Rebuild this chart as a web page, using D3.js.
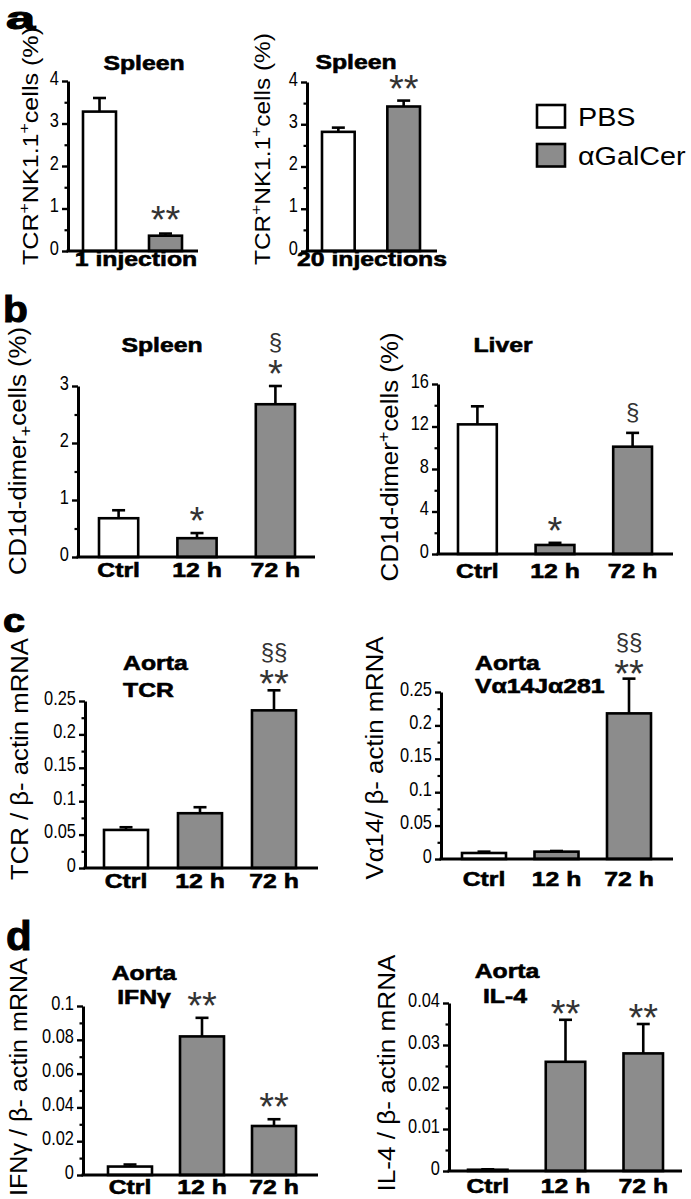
<!DOCTYPE html>
<html><head><meta charset="utf-8">
<script src="https://cdn.jsdelivr.net/npm/d3@7"></script>
<style>body{margin:0;background:#fff} svg{display:block}</style>
</head><body>
<svg id="fig" width="691" height="1199"></svg>
<script>
// ---------- data ----------
const catsA = ["PBS", "αGalCer"];
const spleen1Vals = [3.28, 0.36];
const spleen1Err = [0.32, 0.05];
const spleen1Sig = [[], ["**"]];
const spleen20Vals = [2.82, 3.42];
const spleen20Err = [0.10, 0.14];
const spleen20Sig = [[], ["**"]];
const ticksA = [0, 1, 2, 3, 4];
const minorA = [0.5, 1.5, 2.5, 3.5];

const timeCats = ["Ctrl", "12 h", "72 h"];
const spleenDimerVals = [0.68, 0.33, 2.68];
const spleenDimerErr = [0.14, 0.09, 0.32];
const spleenDimerSig = [[], ["*"], ["§", "*"]];
const ticksSpleenB = [0, 1, 2, 3];
const minorSpleenB = [0.5, 1.5, 2.5];

const liverDimerVals = [12.2, 0.85, 10.1];
const liverDimerErr = [1.7, 0.2, 1.3];
const liverDimerSig = [[], ["*"], ["§"]];
const ticksLiver = [0, 4, 8, 12, 16];
const minorLiver = [2, 6, 10, 14];

const tcrVals = [0.057, 0.082, 0.236];
const tcrErr = [0.004, 0.009, 0.030];
const tcrSig = [[], [], ["§§", "**"]];
const va14Vals = [0.009, 0.011, 0.218];
const va14Err = [0.002, 0.001, 0.052];
const va14Sig = [[], [], ["§§", "**"]];
const ticksC = [0, 0.05, 0.1, 0.15, 0.2, 0.25];
const minorC = [0.025, 0.075, 0.125, 0.175, 0.225];

const ifngVals = [0.005, 0.082, 0.029];
const ifngErr = [0.0012, 0.011, 0.004];
const ifngSig = [[], ["**"], ["**"]];
const ticksIfn = [0, 0.02, 0.04, 0.06, 0.08, 0.1];
const minorIfn = [0.01, 0.03, 0.05, 0.07, 0.09];

const il4Vals = [0.0003, 0.026, 0.028];
const il4Err = [0.0001, 0.010, 0.007];
const il4Sig = [[], ["**"], ["**"]];
const ticksIl4 = [0, 0.01, 0.02, 0.03, 0.04];
const minorIl4 = [0.005, 0.015, 0.025, 0.035];

// ---------- helpers ----------
const svg = d3.select("#fig");
const FF = "'Liberation Sans', Arial, Helvetica, sans-serif";
const GRAY = "#8c8c8c";

function btxt(x, y, s, o = {}) {
  const bold = (o.weight || "bold") === "bold";
  const t = svg.append("text")
    .attr("transform", `translate(${x},${y}) scale(${o.sx || 1.18},${o.sy || 1})`)
    .attr("font-family", FF).attr("font-size", o.size || 21)
    .attr("font-weight", o.weight || "bold")
    .attr("text-anchor", o.anchor || "middle")
    .attr("fill", "#000").text(s);
  if (bold) t.attr("stroke", "#000").attr("stroke-width", o.sw || 0.6);
  return t;
}

function ylabel(x, y, parts, size, len) {
  const t = svg.append("text")
    .attr("transform", `translate(${x},${y}) rotate(-90)`)
    .attr("font-family", FF).attr("font-size", size)
    .attr("text-anchor", "middle").attr("fill", "#000")
    .attr("textLength", len).attr("lengthAdjust", "spacingAndGlyphs");
  let shift = 0;
  parts.forEach(p => {
    const target = p[1] || 0;
    const ts = t.append("tspan").text(p[0]).attr("dy", target - shift);
    if (p[1]) ts.attr("font-size", size * 0.7);
    shift = target;
  });
}

function panel(o) {
  const g = svg.append("g");
  const y = d3.scaleLinear().domain([0, o.max]).range([o.y0, o.yTop]);
  const x = d3.scaleBand().domain(o.cats).range(o.span).paddingInner(o.pad).paddingOuter(0);

  // minor ticks
  const mg = g.append("g").attr("transform", `translate(${o.axisX},0)`)
    .call(d3.axisLeft(y).tickValues(o.minor).tickSize(3.5).tickSizeOuter(0).tickFormat(""));
  mg.select(".domain").remove();
  mg.selectAll("line").attr("stroke-width", 2.2);

  // major axis
  const ag = g.append("g").attr("transform", `translate(${o.axisX},0)`)
    .call(d3.axisLeft(y).tickValues(o.ticks).tickSize(6).tickSizeOuter(0).tickPadding(5)
      .tickFormat(d => String(d)));
  ag.attr("font-family", null).attr("font-size", null);
  ag.select(".domain").attr("stroke-width", 3);
  ag.selectAll(".tick line").attr("stroke-width", 2.4);
  ag.selectAll(".tick text").attr("font-family", FF).attr("font-size", 20)
    .attr("fill", "#000").attr("dy", "0.15em").attr("transform", "scale(0.82,1)");

  const data = o.cats.map((c, i) => ({ c, v: o.vals[i], e: o.err[i], s: o.sig[i], i }));

  // bars
  g.selectAll("rect.bar").data(data).join("rect").attr("class", "bar")
    .attr("x", d => x(d.c)).attr("width", x.bandwidth())
    .attr("y", d => y(d.v)).attr("height", d => y(0) - y(d.v))
    .attr("fill", d => d.i === 0 ? "#fff" : GRAY)
    .attr("stroke", "#000").attr("stroke-width", 2.6);

  // error bars
  const cx = d => x(d.c) + x.bandwidth() / 2;
  g.selectAll("line.err").data(data).join("line").attr("class", "err")
    .attr("x1", cx).attr("x2", cx).attr("y1", d => y(d.v)).attr("y2", d => y(d.v + d.e))
    .attr("stroke", "#000").attr("stroke-width", 2.6);
  g.selectAll("line.cap").data(data).join("line").attr("class", "cap")
    .attr("x1", d => cx(d) - 6.5).attr("x2", d => cx(d) + 6.5)
    .attr("y1", d => y(d.v + d.e)).attr("y2", d => y(d.v + d.e))
    .attr("stroke", "#000").attr("stroke-width", 2.6);

  // baseline
  g.append("line").attr("x1", o.axisX - 1.5).attr("x2", o.xEnd)
    .attr("y1", y(0)).attr("y2", y(0)).attr("stroke", "#000").attr("stroke-width", 3);

  // significance marks
  data.forEach(d => {
    const lines = d.s.slice().reverse();
    lines.forEach((m, k) => {
      const cy = y(d.v + d.e) - (o.sigGap || 19) - k * 23;
      if (m[0] === "*") {
        g.append("text").attr("x", cx(d)).attr("y", cy + 21)
          .attr("font-family", FF).attr("font-size", 38).attr("fill", "#333")
          .attr("text-anchor", "middle").text(m);
      } else {
        g.append("text").attr("x", cx(d)).attr("y", cy + 7)
          .attr("font-family", FF).attr("font-size", 24).attr("fill", "#333")
          .attr("text-anchor", "middle").text(m);
      }
    });
  });

  // category labels
  if (o.catLabelY) {
    data.forEach(d => btxt(cx(d), o.catLabelY, d.c));
  }
  return { x, y };
}

// ---------- panel a ----------
btxt(6, 28.5, "a", { size: 30, sx: 1.75, sy: 1.05, anchor: "start", sw: 1 });
panel({ cats: catsA, vals: spleen1Vals, err: spleen1Err, sig: spleen1Sig,
  max: 4, ticks: ticksA, minor: minorA, y0: 251, yTop: 81, axisX: 68, xEnd: 198,
  span: [83, 182], pad: 0.5, sigGap: 22 });
btxt(144, 70, "Spleen");
btxt(136, 266, "1 injection");
ylabel(38, 146, [["TCR"], ["+", -9], ["NK1.1"], ["+", -9], ["cells (%)"]], 22, 238);

panel({ cats: catsA, vals: spleen20Vals, err: spleen20Err, sig: spleen20Sig,
  max: 4, ticks: ticksA, minor: minorA, y0: 251, yTop: 82, axisX: 307, xEnd: 437,
  span: [322, 420], pad: 0.5, sigGap: 20 });
btxt(356, 69, "Spleen");
btxt(372, 266, "20 injections");
ylabel(270, 149, [["TCR"], ["+", -9], ["NK1.1"], ["+", -9], ["cells (%)"]], 22, 232);

// legend
const legY = d3.scalePoint().domain(catsA).range([105, 144]);
catsA.forEach((c, i) => {
  svg.append("rect").attr("x", 537).attr("y", legY(c)).attr("width", 28).attr("height", 22.5)
    .attr("fill", i === 0 ? "#fff" : GRAY).attr("stroke", "#000").attr("stroke-width", 2.6);
  btxt(578, legY(c) + 20.5, c, { size: 25, sx: 1.15, weight: "normal", anchor: "start" });
});

// ---------- panel b ----------
btxt(3, 322, "b", { size: 37, sx: 1.1, anchor: "start", sw: 1 });
panel({ cats: timeCats, vals: spleenDimerVals, err: spleenDimerErr, sig: spleenDimerSig,
  max: 3, ticks: ticksSpleenB, minor: minorSpleenB, y0: 557, yTop: 386, axisX: 78, xEnd: 315,
  span: [99, 295], pad: 0.5, catLabelY: 577, sigGap: 20 });
btxt(162, 352, "Spleen");
ylabel(26, 451, [["CD1d-dimer"], ["+", 5], ["cells (%)"]], 23, 248);

panel({ cats: timeCats, vals: liverDimerVals, err: liverDimerErr, sig: liverDimerSig,
  max: 16, ticks: ticksLiver, minor: minorLiver, y0: 554, yTop: 384, axisX: 438, xEnd: 673,
  span: [458, 652], pad: 0.5, catLabelY: 578, sigGap: 20 });
btxt(503, 352, "Liver");
ylabel(398, 457, [["CD1d-dimer"], ["+", -9], ["cells (%)"]], 23, 249);

// ---------- panel c ----------
btxt(3, 632, "c", { size: 33, sx: 1.2, anchor: "start", sw: 1 });
panel({ cats: timeCats, vals: tcrVals, err: tcrErr, sig: tcrSig,
  max: 0.25, ticks: ticksC, minor: minorC, y0: 868, yTop: 701, axisX: 85, xEnd: 318,
  span: [104, 296], pad: 0.405, catLabelY: 888, sigGap: 14 });
btxt(123, 670, "Aorta", { anchor: "start" });
btxt(123, 697, "TCR", { anchor: "start" });
ylabel(28, 759, [["TCR / β- actin mRNA"]], 23, 242);

panel({ cats: timeCats, vals: va14Vals, err: va14Err, sig: va14Sig,
  max: 0.25, ticks: ticksC, minor: minorC, y0: 859, yTop: 692, axisX: 441, xEnd: 673,
  span: [462, 651], pad: 0.393, catLabelY: 886, sigGap: 13 });
btxt(475, 670, "Aorta", { anchor: "start" });
btxt(475, 693, "Vα14Jα281", { anchor: "start" });
ylabel(383, 758, [["Vα14/ β- actin mRNA"]], 23, 243);

// ---------- panel d ----------
btxt(6, 950, "d", { size: 40, sx: 1.05, anchor: "start", sw: 1 });
panel({ cats: timeCats, vals: ifngVals, err: ifngErr, sig: ifngSig,
  max: 0.1, ticks: ticksIfn, minor: minorIfn, y0: 1175, yTop: 1006, axisX: 83, xEnd: 318,
  span: [108, 296], pad: 0.389, catLabelY: 1194, sigGap: 20 });
btxt(144, 980, "Aorta");
btxt(144, 1004, "IFNγ");
ylabel(27, 1077, [["IFNγ / β- actin mRNA"]], 23, 238);

panel({ cats: timeCats, vals: il4Vals, err: il4Err, sig: il4Sig,
  max: 0.04, ticks: ticksIl4, minor: minorIl4, y0: 1171, yTop: 1003, axisX: 449, xEnd: 682,
  span: [468, 663], pad: 0.492, catLabelY: 1193, sigGap: 14 });
btxt(507, 978, "Aorta");
btxt(505, 1003, "IL-4");
ylabel(395, 1073, [["IL-4 / β- actin mRNA"]], 23, 237);
</script>
</body></html>
